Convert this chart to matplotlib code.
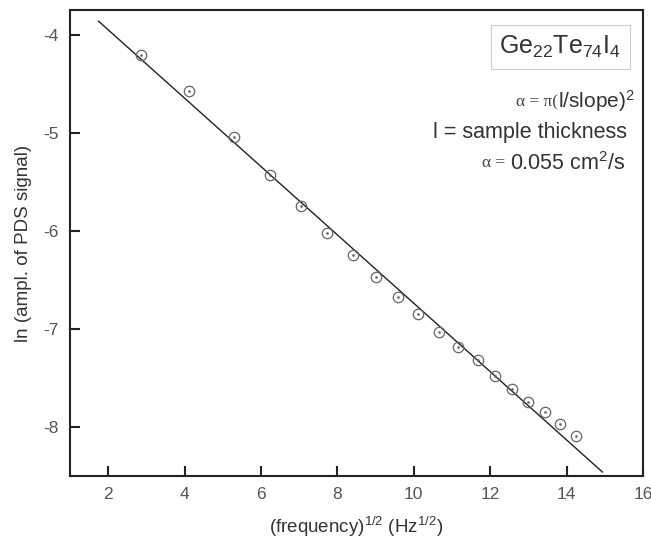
import matplotlib

matplotlib.use("Agg")
import matplotlib.pyplot as plt

# sqrt(frequency) and ln of the PDS amplitude
sqrt_freq = [2.85, 4.12, 5.29, 6.24, 7.05, 7.74, 8.41, 9.00, 9.59, 10.12,
             10.66, 11.17, 11.67, 12.13, 12.58, 13.00, 13.44, 13.83, 14.24]
ln_amp = [-4.20, -4.57, -5.04, -5.43, -5.74, -6.02, -6.24, -6.47, -6.67, -6.85,
          -7.03, -7.18, -7.32, -7.48, -7.61, -7.74, -7.85, -7.97, -8.09]

# end points of the straight-line fit
fit_x = [1.75, 14.94]
fit_y = [-3.86, -8.46]

x_ticks = [2, 4, 6, 8, 10, 12, 14, 16]
y_ticks = [-4, -5, -6, -7, -8]

plt.rcParams["font.family"] = ["Liberation Sans", "DejaVu Sans"]
plt.rcParams["axes.unicode_minus"] = False
plt.rcParams["mathtext.fontset"] = "custom"
plt.rcParams["mathtext.rm"] = "Liberation Sans"
plt.rcParams["mathtext.it"] = "Liberation Sans:italic"

TEXT = "#333333"
TICK = "#555555"

fig = plt.figure(figsize=(6.51, 5.47), dpi=100)
ax = fig.add_axes([0.1075, 0.1298, 0.8802, 0.8519])

ax.plot(fit_x, fit_y, color="#222222", lw=1.0, zorder=2)
ax.plot(sqrt_freq, ln_amp, "o", ms=7.5, mfc="none", mec="#666666", mew=0.9, zorder=3)
ax.plot(sqrt_freq, ln_amp, ".", ms=1.8, color="#666666", zorder=3)

ax.set_xlim(1, 16)
ax.set_ylim(-8.5, -3.745)
ax.set_xticks(x_ticks)
ax.set_yticks(y_ticks)
ax.tick_params(direction="in", length=7, width=1.5, labelsize=12.5, labelcolor=TICK,
               color="#222222", pad=8)
for s in ax.spines.values():
    s.set_linewidth(1.5)
    s.set_color("#222222")

ax.set_xlabel(r"(frequency)$^{\mathit{1/2}}$ (Hz$^{\mathit{1/2}}$)", fontsize=13.5,
              color=TEXT, labelpad=9)
ax.set_ylabel("ln (ampl. of PDS signal)", fontsize=13.5, color=TEXT, labelpad=8)

# sample name in a light box
ax.text(0.962, 0.948, r"Ge$_{22}$Te$_{74}$I$_{4}$", transform=ax.transAxes,
        ha="right", va="top", fontsize=18, color=TEXT,
        bbox=dict(boxstyle="square,pad=0.35", fc="white", ec="#cccccc", lw=0.8))

# formula lines, the alpha parts in a serif face like the original
t1 = ax.text(0.986, 0.79, "l/slope)$^2$", transform=ax.transAxes, ha="right",
             va="baseline", fontsize=15, color=TEXT)
ax.annotate("α = π(", xy=(0, 0), xycoords=t1, xytext=(0, 2.6),
            textcoords="offset points", ha="right", va="bottom",
            fontsize=12.5, family="Liberation Serif", color="#444444")
ax.text(0.972, 0.725, "l = sample thickness", transform=ax.transAxes, ha="right",
        va="baseline", fontsize=15.5, color=TEXT)
t3 = ax.text(0.969, 0.657, "0.055 cm$^2$/s", transform=ax.transAxes, ha="right",
             va="baseline", fontsize=15.5, color=TEXT)
ax.annotate("α = ", xy=(0, 0), xycoords=t3, xytext=(0, 2.6),
            textcoords="offset points", ha="right", va="bottom",
            fontsize=12.5, family="Liberation Serif", color="#444444")

fig.savefig("out.png", dpi=100)
